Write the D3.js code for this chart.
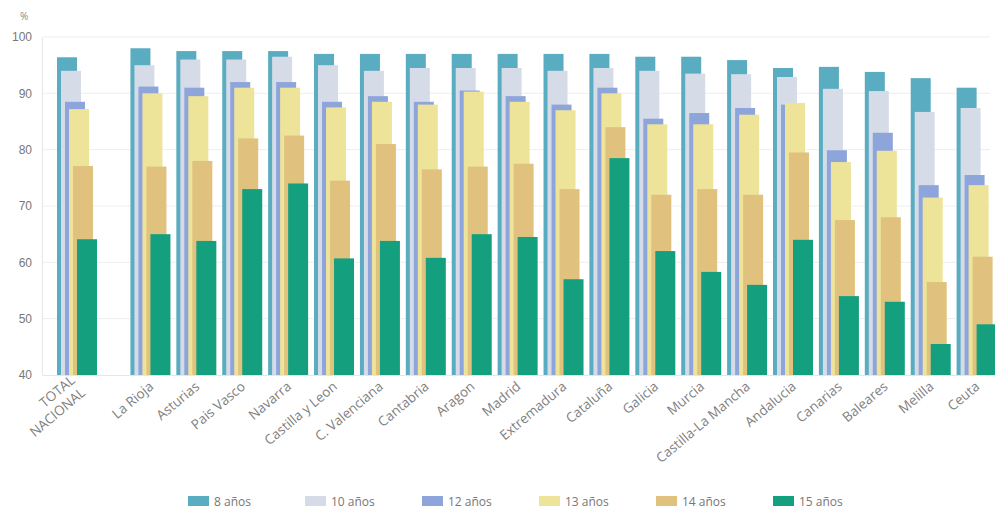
<!DOCTYPE html>
<html>
<head>
<meta charset="utf-8">
<script src="https://cdn.jsdelivr.net/npm/d3@7"></script>
<style>
  html, body { margin: 0; padding: 0; background: #fff; }
  svg { display: block; font-family: "Open Sans", "Noto Sans", sans-serif; }
</style>
</head>
<body>
<svg id="chart" width="995" height="511"></svg>
<script>
const categories = ["TOTAL NACIONAL", "La Rioja", "Asturias", "Pais Vasco", "Navarra", "Castilla y Leon",
  "C. Valenciana", "Cantabria", "Aragon", "Madrid", "Extremadura", "Cataluña", "Galicia", "Murcia",
  "Castilla-La Mancha", "Andalucia", "Canarias", "Baleares", "Melilla", "Ceuta"];
const seriesNames = ["8 años", "10 años", "12 años", "13 años", "14 años", "15 años"];
const anos8  = [96.4, 98.0, 97.5, 97.5, 97.5, 97.0, 97.0, 97.0, 97.0, 97.0, 97.0, 97.0, 96.5, 96.5, 95.9, 94.5, 94.7, 93.8, 92.7, 91.0];
const anos10 = [94.0, 95.0, 96.0, 96.0, 96.5, 95.0, 94.0, 94.5, 94.5, 94.5, 94.0, 94.5, 94.0, 93.5, 93.4, 92.9, 90.8, 90.4, 86.7, 87.4];
const anos12 = [88.5, 91.2, 91.0, 92.0, 92.0, 88.5, 89.5, 88.5, 90.5, 89.5, 88.0, 91.0, 85.5, 86.5, 87.4, 88.0, 79.9, 83.0, 73.7, 75.5];
const anos13 = [87.2, 90.0, 89.5, 91.0, 91.0, 87.5, 88.5, 88.0, 90.3, 88.5, 87.0, 90.0, 84.5, 84.5, 86.2, 88.3, 77.8, 79.8, 71.5, 73.7];
const anos14 = [77.1, 77.0, 78.0, 82.0, 82.5, 74.5, 81.0, 76.5, 77.0, 77.5, 73.0, 84.0, 72.0, 73.0, 72.0, 79.5, 67.5, 68.0, 56.5, 61.0];
const anos15 = [64.1, 65.0, 63.8, 73.0, 74.0, 60.7, 63.8, 60.8, 65.0, 64.5, 57.0, 78.5, 62.0, 58.3, 56.0, 64.0, 54.0, 53.0, 45.5, 49.0];
const yTicks = [40, 50, 60, 70, 80, 90, 100];
const seriesValues = [anos8, anos10, anos12, anos13, anos14, anos15];
const colors = ["#5aacc0", "#d5dce8", "#8ea5dc", "#ede49a", "#e0c27e", "#14a07e"];

const svg = d3.select("#chart");

const y = d3.scaleLinear().domain([40, 100]).range([375, 37]);
// position index: a gap after the national total
const gapAfterTotal = 0.6;
const posIndex = categories.map((c, i) => i === 0 ? 0 : i + gapAfterTotal);
const x = d3.scaleLinear().domain([0, categories.length - 1 + gapAfterTotal]).range([57, 956.6]);
const inner = d3.scalePoint().domain(seriesNames).range([0, 20]);
const barW = 20;

// grid
svg.append("g").selectAll("line").data(yTicks.slice(1)).join("line")
  .attr("x1", 43).attr("x2", 990)
  .attr("y1", d => y(d)).attr("y2", d => y(d))
  .attr("stroke", "#eeeeee").attr("stroke-width", 1);

// y axis
const yAxis = d3.axisLeft(y).tickValues(yTicks).tickSize(0).tickPadding(10).tickFormat(d3.format("d"));
const gy = svg.append("g").attr("transform", "translate(42,0)").call(yAxis);
gy.select(".domain").attr("stroke", "#e6e6e6");
gy.selectAll("text").attr("fill", "#777").attr("font-size", 12);
svg.append("text").attr("x", 20).attr("y", 20).attr("fill", "#888").attr("font-size", 10).text("%");

// bars
const data = categories.map((c, i) => ({ cat: c, idx: posIndex[i], vals: seriesValues.map(s => s[i]) }));
const groups = svg.append("g").selectAll("g").data(data).join("g")
  .attr("transform", d => `translate(${x(d.idx)},0)`);
seriesNames.forEach((s, k) => {
  groups.append("rect")
    .attr("x", inner(s))
    .attr("width", barW)
    .attr("y", d => y(d.vals[k]))
    .attr("height", d => y(40) - y(d.vals[k]))
    .attr("fill", colors[k]);
});

// x axis baseline
svg.append("line").attr("x1", 43).attr("x2", 995).attr("y1", 375.5).attr("y2", 375.5).attr("stroke", "#e6e6e6");

// x labels
const labels = svg.append("g").selectAll("text").data(data).join("text")
  .attr("transform", d => `translate(${x(d.idx) + 24},${388}) rotate(-40)`)
  .attr("text-anchor", "end")
  .attr("fill", "#808080")
  .attr("font-size", 13.5);
labels.each(function(d) {
  const t = d3.select(this);
  if (d.cat === "TOTAL NACIONAL") {
    t.append("tspan").attr("x", 0).attr("dy", "-0.6em").text("TOTAL");
    t.append("tspan").attr("x", 0).attr("dy", "1.2em").text("NACIONAL");
  } else {
    t.text(d.cat);
  }
});

// legend
const legend = svg.append("g").selectAll("g").data(seriesNames).join("g")
  .attr("transform", (d, i) => `translate(${188 + i * 117},496)`);
legend.append("rect").attr("width", 21).attr("height", 10).attr("fill", (d, i) => colors[i]);
legend.append("text").attr("x", 26).attr("y", 9.5).attr("fill", "#777").attr("font-size", 12).text(d => d);
</script>
</body>
</html>
